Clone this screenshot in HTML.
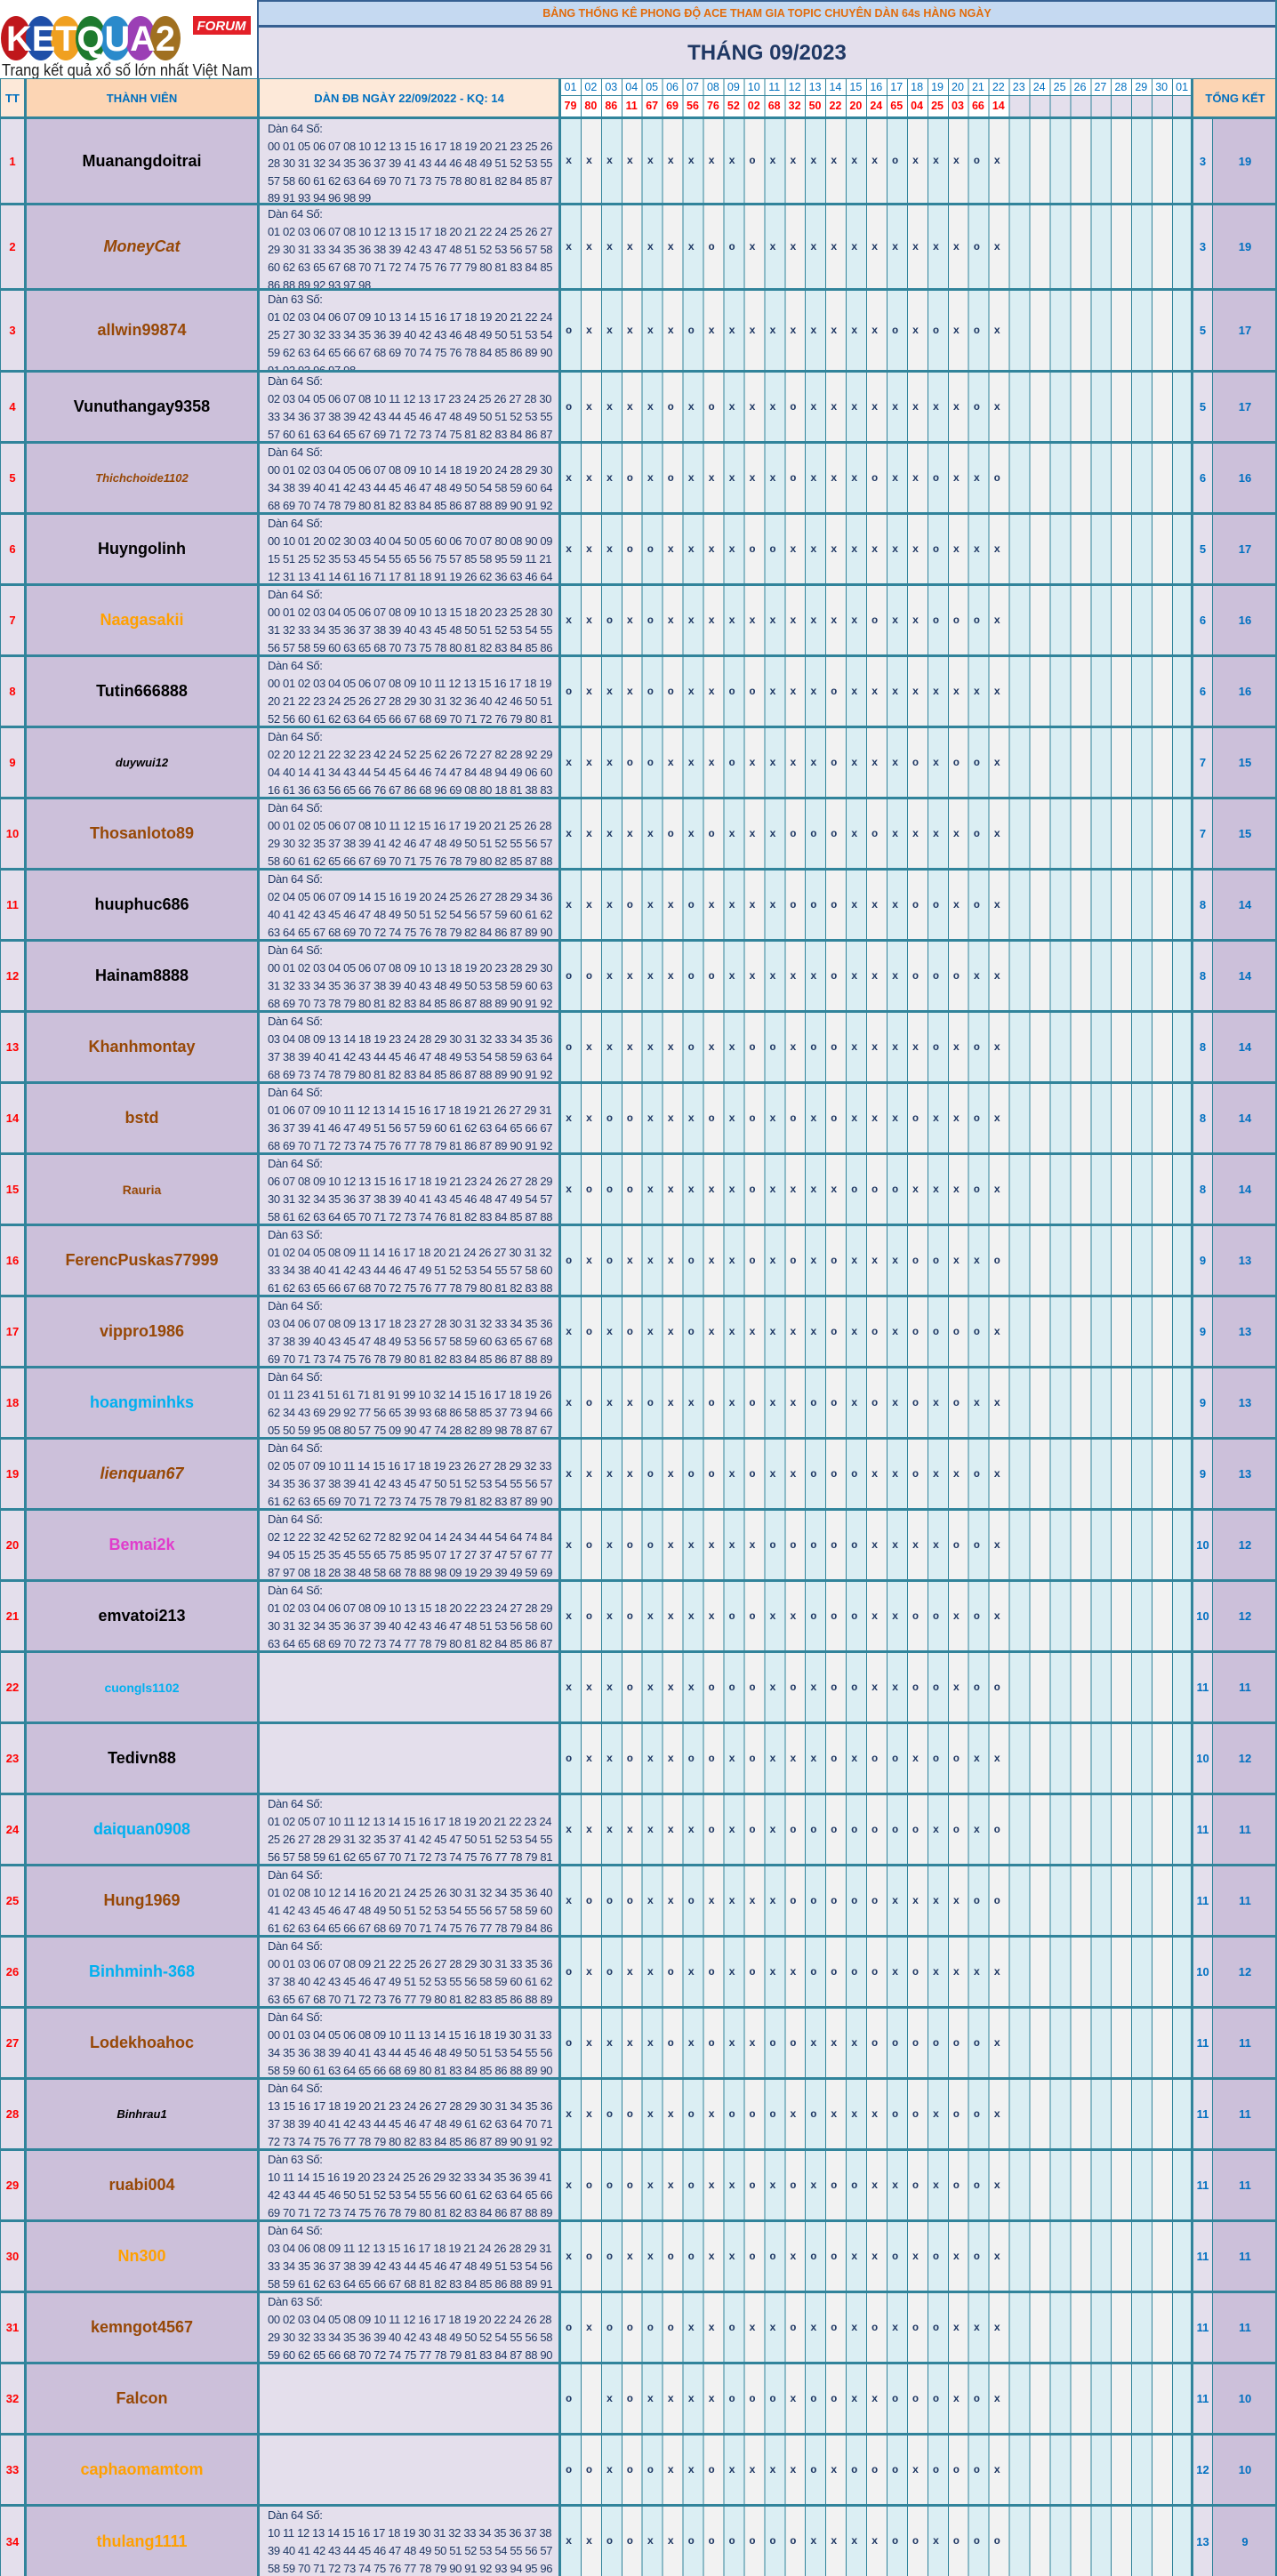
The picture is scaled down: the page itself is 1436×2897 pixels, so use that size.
<!DOCTYPE html>
<html><head><meta charset="utf-8">
<style>
*{margin:0;padding:0;box-sizing:border-box}
body{width:1436px;height:2897px;position:relative;background:#fff;font-family:"Liberation Sans",sans-serif;overflow:hidden}
.a{position:absolute}
.r{position:absolute;left:0;width:1436px;border-top:3px solid #31849b}
.r>div{position:absolute;top:0;bottom:0}
.tt{left:0;width:27px;background:#e4dfec;color:#ff0000;font-weight:bold;font-size:13px;display:flex;align-items:center;justify-content:center;border-left:1px solid #31849b}
.nm{left:27px;width:262px;background:#ccc0da;font-weight:bold;font-size:18px;display:flex;align-items:center;justify-content:center;border-left:3px solid #31849b;white-space:nowrap}
.dn{left:289px;width:339px;background:#e4dfec;border-left:3px solid #31849b;padding-left:9px;font-size:13px;letter-spacing:-0.35px;line-height:20px;color:#1f3864;overflow:hidden;white-space:nowrap}
.g{left:628px;width:711px;border-left:2px solid #31849b;background:repeating-linear-gradient(90deg,#31849b 0 1px,transparent 1px 22.935px),repeating-linear-gradient(90deg,#dbeef3 0 22.935px,#f2f2f2 22.935px 45.87px);font-family:"Liberation Mono",monospace;font-weight:bold;font-size:12px;color:#1f3864;letter-spacing:15.735px;padding-left:6px;display:flex;align-items:center;white-space:pre}
.s1{left:1339px;width:24px;background:#e4dfec;border-left:3px solid #31849b;color:#0070c0;font-weight:bold;font-size:13px;display:flex;align-items:center;justify-content:center}
.s2{left:1363px;width:73px;background:#ccc0da;border-left:1px solid #31849b;color:#0070c0;font-weight:bold;font-size:13px;display:flex;align-items:center;justify-content:center}
.br{color:#974806}.bl{color:#00b0f0}.or{color:#ffa000}.bk{color:#000}.it{font-style:italic}.sm{font-size:13px}
.hd{position:absolute;display:flex;align-items:center;justify-content:center;color:#0070c0;font-weight:bold;font-size:13px}
.days span{display:inline-block;width:22.935px;text-align:center}
</style></head><body>

<svg class="a" style="left:0;top:0" width="289" height="88" viewBox="0 0 289 88">
<rect width="289" height="88" fill="#fff"/>
<ellipse cx="18" cy="43" rx="17" ry="25" fill="#c0171c"/>
<ellipse cx="46" cy="43" rx="17" ry="25" fill="#1f4fa8"/>
<ellipse cx="74" cy="43" rx="17" ry="25" fill="#f0a020"/>
<ellipse cx="102" cy="43" rx="17" ry="25" fill="#1e7a2e"/>
<ellipse cx="130" cy="43" rx="17" ry="25" fill="#2a8acb"/>
<ellipse cx="158" cy="43" rx="17" ry="25" fill="#9b3fb5"/>
<ellipse cx="186" cy="43" rx="17" ry="25" fill="#a07020"/>
<text x="102" y="57" text-anchor="middle" font-family="Liberation Sans" font-weight="bold" font-size="40" fill="#fff" textLength="190" lengthAdjust="spacingAndGlyphs">KETQUA2</text>
<rect x="217" y="18" width="65" height="21" fill="#e32028"/>
<text x="249" y="34" text-anchor="middle" font-family="Liberation Sans" font-weight="bold" font-style="italic" font-size="15" fill="#fff">FORUM</text>
<text x="2" y="85" font-family="Liberation Sans" font-size="18" fill="#222" textLength="282" lengthAdjust="spacingAndGlyphs">Trang kết quả xổ số lớn nhất Việt Nam</text>
</svg>

<div class="a" style="left:289px;top:0;width:1147px;height:31px;background:#c5d9f1;border:2px solid #366092;border-bottom:3px solid #366092;display:flex;align-items:center;justify-content:center;color:#e26b0a;font-weight:bold;font-size:12.5px">BẢNG THỐNG KÊ PHONG ĐỘ ACE THAM GIA TOPIC CHUYÊN DÀN 64s HÀNG NGÀY</div>
<div class="a" style="left:289px;top:31px;width:1147px;height:57px;background:#e4dfec;border-left:2px solid #366092;border-right:2px solid #366092;display:flex;align-items:center;justify-content:center;color:#1f3864;font-weight:bold;font-size:24px">THÁNG 09/2023</div>

<div class="hd" style="left:0;top:88px;width:27px;height:43px;background:#fde9d9;border-left:1px solid #31849b;border-top:1px solid #31849b">TT</div>
<div class="hd" style="left:27px;top:88px;width:262px;height:43px;background:#fcd5b4;border-left:3px solid #31849b;border-top:1px solid #31849b">THÀNH VIÊN</div>
<div class="hd" style="left:289px;top:88px;width:339px;height:43px;background:#fde9d9;border-left:3px solid #31849b;border-top:1px solid #31849b">DÀN ĐB NGÀY 22/09/2022 - KQ: 14</div>
<div class="a days" style="left:628px;top:88px;width:711px;height:20px;border-left:2px solid #31849b;border-top:1px solid #31849b;border-bottom:1px solid #31849b;background:repeating-linear-gradient(90deg,#31849b 0 1px,#fff 1px 22.935px);color:#0070c0;font-size:12.5px;line-height:18px;white-space:nowrap"><span>01</span><span>02</span><span>03</span><span>04</span><span>05</span><span>06</span><span>07</span><span>08</span><span>09</span><span>10</span><span>11</span><span>12</span><span>13</span><span>14</span><span>15</span><span>16</span><span>17</span><span>18</span><span>19</span><span>20</span><span>21</span><span>22</span><span>23</span><span>24</span><span>25</span><span>26</span><span>27</span><span>28</span><span>29</span><span>30</span><span>01</span></div>
<div class="a days" style="left:628px;top:108px;width:711px;height:23px;border-left:2px solid #31849b;background:repeating-linear-gradient(90deg,#31849b 0 1px,transparent 1px 22.935px),linear-gradient(90deg,#fff 0 504.6px,#e4dfec 504.6px);color:#ff0000;font-weight:bold;font-size:12.5px;line-height:23px;white-space:nowrap"><span>79</span><span>80</span><span>86</span><span>11</span><span>67</span><span>69</span><span>56</span><span>76</span><span>52</span><span>02</span><span>68</span><span>32</span><span>50</span><span>22</span><span>20</span><span>24</span><span>65</span><span>04</span><span>25</span><span>03</span><span>66</span><span>14</span></div>
<div class="hd" style="left:1339px;top:88px;width:97px;height:43px;background:#fcd5b4;border-left:3px solid #31849b;border-top:1px solid #31849b">TỔNG KẾT</div>

<div class="r" style="top:131px;height:97px"><div class="tt">1</div><div class="nm bk">Muanangdoitrai</div><div class="dn" style="line-height:19.6px;padding-top:1px">Dàn 64 Số:<br>00 01 05 06 07 08 10 12 13 15 16 17 18 19 20 21 23 25 26<br>28 30 31 32 34 35 36 37 39 41 43 44 46 48 49 51 52 53 55<br>57 58 60 61 62 63 64 69 70 71 73 75 78 80 81 82 84 85 87<br>89 91 93 94 96 98 99</div><div class="g">xxxxxxxxxoxxxxxxoxxxox</div><div class="s1">3</div><div class="s2">19</div></div>

<div class="r" style="top:228px;height:96px"><div class="tt">2</div><div class="nm br it">MoneyCat</div><div class="dn">Dàn 64 Số:<br>01 02 03 06 07 08 10 12 13 15 17 18 20 21 22 24 25 26 27<br>29 30 31 33 34 35 36 38 39 42 43 47 48 51 52 53 56 57 58<br>60 62 63 65 67 68 70 71 72 74 75 76 77 79 80 81 83 84 85<br>86 88 89 92 93 97 98</div><div class="g">xxxxxxxooxxxxxxxxxxxox</div><div class="s1">3</div><div class="s2">19</div></div>

<div class="r" style="top:324px;height:92px"><div class="tt">3</div><div class="nm br">allwin99874</div><div class="dn">Dàn 63 Số:<br>01 02 03 04 06 07 09 10 13 14 15 16 17 18 19 20 21 22 24<br>25 27 30 32 33 34 35 36 39 40 42 43 46 48 49 50 51 53 54<br>59 62 63 64 65 66 67 68 69 70 74 75 76 78 84 85 86 89 90<br>91 92 93 96 97 98</div><div class="g">oxxxxxoxxxxxxxxxoxoxox</div><div class="s1">5</div><div class="s2">17</div></div>

<div class="r" style="top:416px;height:80px"><div class="tt">4</div><div class="nm bk">Vunuthangay9358</div><div class="dn">Dàn 64 Số:<br>02 03 04 05 06 07 08 10 11 12 13 17 23 24 25 26 27 28 30<br>33 34 36 37 38 39 42 43 44 45 46 47 48 49 50 51 52 53 55<br>57 60 61 63 64 65 67 69 71 72 73 74 75 81 82 83 84 86 87</div><div class="g">oxxxxoxoxxxoxxxxxxxxox</div><div class="s1">5</div><div class="s2">17</div></div>

<div class="r" style="top:496px;height:80px"><div class="tt">5</div><div class="nm br it sm">Thichchoide1102</div><div class="dn">Dàn 64 Số:<br>00 01 02 03 04 05 06 07 08 09 10 14 18 19 20 24 28 29 30<br>34 38 39 40 41 42 43 44 45 46 47 48 49 50 54 58 59 60 64<br>68 69 70 74 78 79 80 81 82 83 84 85 86 87 88 89 90 91 92</div><div class="g">xxxoxoxxxxxoxxxoxxoxxo</div><div class="s1">6</div><div class="s2">16</div></div>

<div class="r" style="top:576px;height:80px"><div class="tt">6</div><div class="nm bk">Huyngolinh</div><div class="dn">Dàn 64 Số:<br>00 10 01 20 02 30 03 40 04 50 05 60 06 70 07 80 08 90 09<br>15 51 25 52 35 53 45 54 55 65 56 75 57 85 58 95 59 11 21<br>12 31 13 41 14 61 16 71 17 81 18 91 19 26 62 36 63 46 64</div><div class="g">xxxooxxxxooxxxxxxxoxxx</div><div class="s1">5</div><div class="s2">17</div></div>

<div class="r" style="top:656px;height:80px"><div class="tt">7</div><div class="nm or">Naagasakii</div><div class="dn">Dàn 64 Số:<br>00 01 02 03 04 05 06 07 08 09 10 13 15 18 20 23 25 28 30<br>31 32 33 34 35 36 37 38 39 40 43 45 48 50 51 52 53 54 55<br>56 57 58 59 60 63 65 68 70 73 75 78 80 81 82 83 84 85 86</div><div class="g">xxoxoxxxxxxxxxxoxxooox</div><div class="s1">6</div><div class="s2">16</div></div>

<div class="r" style="top:736px;height:80px"><div class="tt">8</div><div class="nm bk">Tutin666888</div><div class="dn">Dàn 64 Số:<br>00 01 02 03 04 05 06 07 08 09 10 11 12 13 15 16 17 18 19<br>20 21 22 23 24 25 26 27 28 29 30 31 32 36 40 42 46 50 51<br>52 56 60 61 62 63 64 65 66 67 68 69 70 71 72 76 79 80 81</div><div class="g">oxxxooxxooxxxoxxxxxxxx</div><div class="s1">6</div><div class="s2">16</div></div>

<div class="r" style="top:816px;height:80px"><div class="tt">9</div><div class="nm bk it sm">duywui12</div><div class="dn">Dàn 64 Số:<br>02 20 12 21 22 32 23 42 24 52 25 62 26 72 27 82 28 92 29<br>04 40 14 41 34 43 44 54 45 64 46 74 47 84 48 94 49 06 60<br>16 61 36 63 56 65 66 76 67 86 68 96 69 08 80 18 81 38 83</div><div class="g">xxxooxxxoxxxxoxxxoxoox</div><div class="s1">7</div><div class="s2">15</div></div>

<div class="r" style="top:896px;height:80px"><div class="tt">10</div><div class="nm br">Thosanloto89</div><div class="dn">Dàn 64 Số:<br>00 01 02 05 06 07 08 10 11 12 15 16 17 19 20 21 25 26 28<br>29 30 32 35 37 38 39 41 42 46 47 48 49 50 51 52 55 56 57<br>58 60 61 62 65 66 67 69 70 71 75 76 78 79 80 82 85 87 88</div><div class="g">xxxxxoxoxxxoooxoxxxxox</div><div class="s1">7</div><div class="s2">15</div></div>

<div class="r" style="top:976px;height:80px"><div class="tt">11</div><div class="nm bk">huuphuc686</div><div class="dn">Dàn 64 Số:<br>02 04 05 06 07 09 14 15 16 19 20 24 25 26 27 28 29 34 36<br>40 41 42 43 45 46 47 48 49 50 51 52 54 56 57 59 60 61 62<br>63 64 65 67 68 69 70 72 74 75 76 78 79 82 84 86 87 89 90</div><div class="g">xxxoxxoxxxxoooxxxooxox</div><div class="s1">8</div><div class="s2">14</div></div>

<div class="r" style="top:1056px;height:80px"><div class="tt">12</div><div class="nm bk">Hainam8888</div><div class="dn">Dàn 64 Số:<br>00 01 02 03 04 05 06 07 08 09 10 13 18 19 20 23 28 29 30<br>31 32 33 34 35 36 37 38 39 40 43 48 49 50 53 58 59 60 63<br>68 69 70 73 78 79 80 81 82 83 84 85 86 87 88 89 90 91 92</div><div class="g">ooxxxxooxxxxxoxxxoooxx</div><div class="s1">8</div><div class="s2">14</div></div>

<div class="r" style="top:1136px;height:80px"><div class="tt">13</div><div class="nm br">Khanhmontay</div><div class="dn">Dàn 64 Số:<br>03 04 08 09 13 14 18 19 23 24 28 29 30 31 32 33 34 35 36<br>37 38 39 40 41 42 43 44 45 46 47 48 49 53 54 58 59 63 64<br>68 69 73 74 78 79 80 81 82 83 84 85 86 87 88 89 90 91 92</div><div class="g">oxxxxxoxxooxooxxxxoxox</div><div class="s1">8</div><div class="s2">14</div></div>

<div class="r" style="top:1216px;height:80px"><div class="tt">14</div><div class="nm br">bstd</div><div class="dn">Dàn 64 Số:<br>01 06 07 09 10 11 12 13 14 15 16 17 18 19 21 26 27 29 31<br>36 37 39 41 46 47 49 51 56 57 59 60 61 62 63 64 65 66 67<br>68 69 70 71 72 73 74 75 76 77 78 79 81 86 87 89 90 91 92</div><div class="g">xxooxxxoxoxoxoxxxoxxox</div><div class="s1">8</div><div class="s2">14</div></div>

<div class="r" style="top:1296px;height:80px"><div class="tt">15</div><div class="nm br" style="font-size:14px">Rauria</div><div class="dn">Dàn 64 Số:<br>06 07 08 09 10 12 13 15 16 17 18 19 21 23 24 26 27 28 29<br>30 31 32 34 35 36 37 38 39 40 41 43 45 46 48 47 49 54 57<br>58 61 62 63 64 65 70 71 72 73 74 76 81 82 83 84 85 87 88</div><div class="g">xoooxxxxxoxxxxoooxxxox</div><div class="s1">8</div><div class="s2">14</div></div>

<div class="r" style="top:1376px;height:80px"><div class="tt">16</div><div class="nm br">FerencPuskas77999</div><div class="dn">Dàn 63 Số:<br>01 02 04 05 08 09 11 14 16 17 18 20 21 24 26 27 30 31 32<br>33 34 38 40 41 42 43 44 46 47 49 51 52 53 54 55 57 58 60<br>61 62 63 65 66 67 68 70 72 75 76 77 78 79 80 81 82 83 88</div><div class="g">oxoxxxoxxoxoxoxxxooxxo</div><div class="s1">9</div><div class="s2">13</div></div>

<div class="r" style="top:1456px;height:80px"><div class="tt">17</div><div class="nm br">vippro1986</div><div class="dn">Dàn 64 Số:<br>03 04 06 07 08 09 13 17 18 23 27 28 30 31 32 33 34 35 36<br>37 38 39 40 43 45 47 48 49 53 56 57 58 59 60 63 65 67 68<br>69 70 71 73 74 75 76 78 79 80 81 82 83 84 85 86 87 88 89</div><div class="g">xoxoxxoxxxxxxoxoxoooox</div><div class="s1">9</div><div class="s2">13</div></div>

<div class="r" style="top:1536px;height:80px"><div class="tt">18</div><div class="nm bl">hoangminhks</div><div class="dn">Dàn 64 Số:<br>01 11 23 41 51 61 71 81 91 99 10 32 14 15 16 17 18 19 26<br>62 34 43 69 29 92 77 56 65 39 93 68 86 58 85 37 73 94 66<br>05 50 59 95 08 80 57 75 09 90 47 74 28 82 89 98 78 87 67</div><div class="g">xoxxoxxoxoxxooxoxoxoxx</div><div class="s1">9</div><div class="s2">13</div></div>

<div class="r" style="top:1616px;height:80px"><div class="tt">19</div><div class="nm br it">lienquan67</div><div class="dn">Dàn 64 Số:<br>02 05 07 09 10 11 14 15 16 17 18 19 23 26 27 28 29 32 33<br>34 35 36 37 38 39 41 42 43 45 47 50 51 52 53 54 55 56 57<br>61 62 63 65 69 70 71 72 73 74 75 78 79 81 82 83 87 89 90</div><div class="g">xxxxoxooxoxxoooxxoxxox</div><div class="s1">9</div><div class="s2">13</div></div>

<div class="r" style="top:1696px;height:80px"><div class="tt">20</div><div class="nm" style="color:#e03ccc">Bemai2k</div><div class="dn">Dàn 64 Số:<br>02 12 22 32 42 52 62 72 82 92 04 14 24 34 44 54 64 74 84<br>94 05 15 25 35 45 55 65 75 85 95 07 17 27 37 47 57 67 77<br>87 97 08 18 28 38 48 58 68 78 88 98 09 19 29 39 49 59 69</div><div class="g">xoxooxxxxxoooooxxxxoox</div><div class="s1">10</div><div class="s2">12</div></div>

<div class="r" style="top:1776px;height:80px"><div class="tt">21</div><div class="nm bk">emvatoi213</div><div class="dn">Dàn 64 Số:<br>01 02 03 04 06 07 08 09 10 13 15 18 20 22 23 24 27 28 29<br>30 31 32 34 35 36 37 39 40 42 43 46 47 48 51 53 56 58 60<br>63 64 65 68 69 70 72 73 74 77 78 79 80 81 82 84 85 86 87</div><div class="g">xoxoxxxxooxxoooxxooxox</div><div class="s1">10</div><div class="s2">12</div></div>

<div class="r" style="top:1856px;height:80px"><div class="tt">22</div><div class="nm bl" style="font-size:14px">cuongls1102</div><div class="dn"></div><div class="g">xxxoxxxoooxoxooxxooxoo</div><div class="s1">11</div><div class="s2">11</div></div>

<div class="r" style="top:1936px;height:80px"><div class="tt">23</div><div class="nm bk">Tedivn88</div><div class="dn"></div><div class="g">oxxoxxooxoxxxoxooxooxx</div><div class="s1">10</div><div class="s2">12</div></div>

<div class="r" style="top:2016px;height:80px"><div class="tt">24</div><div class="nm bl">daiquan0908</div><div class="dn">Dàn 64 Số:<br>01 02 05 07 10 11 12 13 14 15 16 17 18 19 20 21 22 23 24<br>25 26 27 28 29 31 32 35 37 41 42 45 47 50 51 52 53 54 55<br>56 57 58 59 61 62 65 67 70 71 72 73 74 75 76 77 78 79 81</div><div class="g">xxxxxxxoxoxoooooooxoxo</div><div class="s1">11</div><div class="s2">11</div></div>

<div class="r" style="top:2096px;height:80px"><div class="tt">25</div><div class="nm br">Hung1969</div><div class="dn">Dàn 64 Số:<br>01 02 08 10 12 14 16 20 21 24 25 26 30 31 32 34 35 36 40<br>41 42 43 45 46 47 48 49 50 51 52 53 54 55 56 57 58 59 60<br>61 62 63 64 65 66 67 68 69 70 71 74 75 76 77 78 79 84 86</div><div class="g">xoooxxoxxxxoooooxxxxoo</div><div class="s1">11</div><div class="s2">11</div></div>

<div class="r" style="top:2176px;height:80px"><div class="tt">26</div><div class="nm bl">Binhminh-368</div><div class="dn">Dàn 64 Số:<br>00 01 03 06 07 08 09 21 22 25 26 27 28 29 30 31 33 35 36<br>37 38 40 42 43 45 46 47 49 51 52 53 55 56 58 59 60 61 62<br>63 65 67 68 70 71 72 73 76 77 79 80 81 82 83 85 86 88 89</div><div class="g">oxoxxoxoxoxxooooxoxxxx</div><div class="s1">10</div><div class="s2">12</div></div>

<div class="r" style="top:2256px;height:80px"><div class="tt">27</div><div class="nm br">Lodekhoahoc</div><div class="dn">Dàn 64 Số:<br>00 01 03 04 05 06 08 09 10 11 13 14 15 16 18 19 30 31 33<br>34 35 36 38 39 40 41 43 44 45 46 48 49 50 51 53 54 55 56<br>58 59 60 61 63 64 65 66 68 69 80 81 83 84 85 86 88 89 90</div><div class="g">oxxxxoxoxxooxxxoooooox</div><div class="s1">11</div><div class="s2">11</div></div>

<div class="r" style="top:2336px;height:80px"><div class="tt">28</div><div class="nm bk it sm">Binhrau1</div><div class="dn">Dàn 64 Số:<br>13 15 16 17 18 19 20 21 23 24 26 27 28 29 30 31 34 35 36<br>37 38 39 40 41 42 43 44 45 46 47 48 49 61 62 63 64 70 71<br>72 73 74 75 76 77 78 79 80 82 83 84 85 86 87 89 90 91 92</div><div class="g">xxooxxoxoooxoxxxooxoox</div><div class="s1">11</div><div class="s2">11</div></div>

<div class="r" style="top:2416px;height:80px"><div class="tt">29</div><div class="nm br">ruabi004</div><div class="dn">Dàn 63 Số:<br>10 11 14 15 16 19 20 23 24 25 26 29 32 33 34 35 36 39 41<br>42 43 44 45 46 50 51 52 53 54 55 56 60 61 62 63 64 65 66<br>69 70 71 72 73 74 75 76 78 79 80 81 82 83 84 86 87 88 89</div><div class="g">xoooxxoxxoxoxooxxoxoox</div><div class="s1">11</div><div class="s2">11</div></div>

<div class="r" style="top:2496px;height:80px"><div class="tt">30</div><div class="nm or">Nn300</div><div class="dn">Dàn 64 Số:<br>03 04 06 08 09 11 12 13 15 16 17 18 19 21 24 26 28 29 31<br>33 34 35 36 37 38 39 42 43 44 45 46 47 48 49 51 53 54 56<br>58 59 61 62 63 64 65 66 67 68 81 82 83 84 85 86 88 89 91</div><div class="g">xooxxooxxooxooxxoxoxox</div><div class="s1">11</div><div class="s2">11</div></div>

<div class="r" style="top:2576px;height:80px"><div class="tt">31</div><div class="nm br">kemngot4567</div><div class="dn">Dàn 63 Số:<br>00 02 03 04 05 08 09 10 11 12 16 17 18 19 20 22 24 26 28<br>29 30 32 33 34 35 36 39 40 42 43 48 49 50 52 54 55 56 58<br>59 60 62 65 66 68 70 72 74 75 77 78 79 81 83 84 87 88 90</div><div class="g">oxooooxxoxxoxoxoxooxxx</div><div class="s1">11</div><div class="s2">11</div></div>

<div class="r" style="top:2656px;height:80px"><div class="tt">32</div><div class="nm br">Falcon</div><div class="dn"></div><div class="g">o xoxxxxoooxooxxoooxox</div><div class="s1">11</div><div class="s2">10</div></div>

<div class="r" style="top:2736px;height:80px"><div class="tt">33</div><div class="nm or">caphaomamtom</div><div class="dn"></div><div class="g">ooxooxxoxxxxoxoooxooox</div><div class="s1">12</div><div class="s2">10</div></div>

<div class="r" style="top:2816px;height:81px"><div class="tt">34</div><div class="nm or">thulang1111</div><div class="dn">Dàn 64 Số:<br>10 11 12 13 14 15 16 17 18 19 30 31 32 33 34 35 36 37 38<br>39 40 41 42 43 44 45 46 47 48 49 50 51 52 53 54 55 56 57<br>58 59 70 71 72 73 74 75 76 77 78 79 90 91 92 93 94 95 96</div><div class="g">xxooxxooooooxxxxooxooo</div><div class="s1">13</div><div class="s2">9</div></div>

<div class="a" style="left:1434px;top:0;width:2px;height:2897px;background:#31849b"></div>
</body></html>
